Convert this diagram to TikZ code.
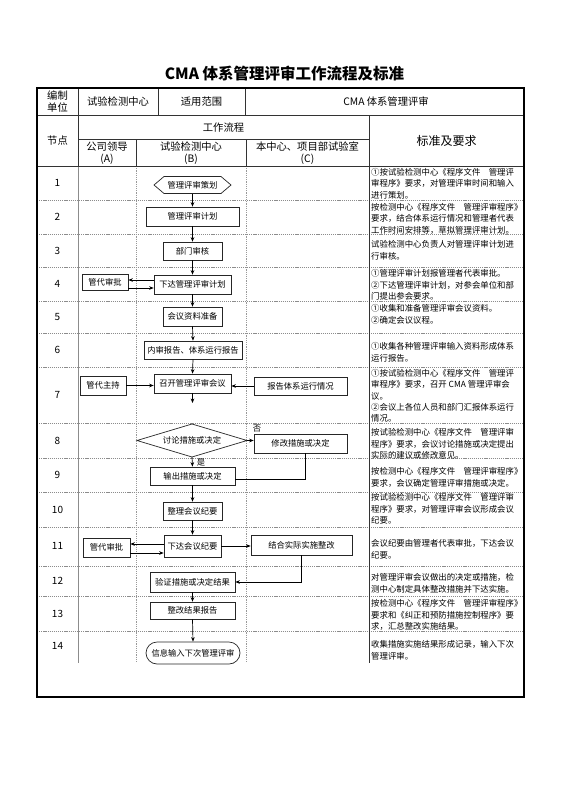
\documentclass[tikz,border=0pt]{standalone}
\usepackage{fontspec}
\setmainfont{Noto Sans CJK SC}
\usetikzlibrary{arrows.meta}
\begin{document}
\begin{tikzpicture}[x=1pt,y=-1pt,
  box/.style={draw=black!85,line width=0.7pt,fill=white,inner sep=0pt,font=\fontsize{8.3}{10}\selectfont},
  plain/.style={inner sep=0pt,font=\fontsize{8.3}{10}\selectfont},
  arr/.style={-{Stealth[length=4.5pt,width=3.6pt]},line width=0.7pt,black},
  ln/.style={line width=0.7pt,black},
  std/.style={anchor=north west,align=left,inner sep=0pt,font=\fontsize{8.4}{11.4}\selectfont},
  hdr/.style={inner sep=0pt,font=\fontsize{10.3}{12.5}\selectfont,align=center},
  num/.style={inner sep=0pt,font=\fontsize{10}{12}\selectfont},
  lbl/.style={inner sep=0pt,font=\fontsize{8.3}{10}\selectfont},
  solidln/.style={line width=0.6pt,black!80},
  grayln/.style={line width=0.6pt,black!45},
  rowln/.style={line width=0.5pt,black!45,dash pattern=on 1.2pt off 0.9pt},
  laneln/.style={line width=0.5pt,black!40,dash pattern=on 1.2pt off 1pt},
  ]
\useasboundingbox (0,0) rectangle (560,792);
\fill[white] (0,0) rectangle (560,792);

% title
\node[inner sep=0pt,font=\fontsize{15.5}{18}\selectfont\bfseries] (title) at (284.5,74) {CMA 体系管理评审工作流程及标准};

% grid
\foreach \yy in {200,234,267,301,333,367,423,458,492,527,566,596,631}
  \draw[rowln] (37,\yy) -- (524,\yy);
\draw[laneln] (136,166) -- (136,663);
\draw[laneln] (246,166) -- (246,663);
\draw[grayln] (78,166) -- (78,663);
\draw[solidln] (369,115) -- (369,663);
\draw[solidln] (37,115) -- (524,115);
\draw[solidln] (37,166) -- (524,166);
\draw[solidln] (78,139) -- (369,139);
\draw[solidln] (78,88) -- (78,166);
\draw[solidln] (158,88) -- (158,115);
\draw[solidln] (245,88) -- (245,115);
\draw[solidln] (136,139) -- (136,166);
\draw[solidln] (246,139) -- (246,166);
\draw[line width=1.2pt,black] (37,88) rectangle (524,697);

% header texts
\node[hdr] (h1) at (57.5,101.5) {编制\\单位};
\node[hdr] (h2) at (118,101.5) {试验检测中心};
\node[hdr] (h3) at (201.5,101.5) {适用范围};
\node[hdr] (h4) at (386,101.5) {CMA 体系管理评审};
\node[hdr] (h5) at (57.5,141) {节点};
\node[hdr] (h6) at (223.5,128) {工作流程};
\node[hdr] (h7) at (107,153) {公司领导\\(A)};
\node[hdr] (h8) at (191,153) {试验检测中心\\(B)};
\node[hdr] (h9) at (307.5,153) {本中心、项目部试验室\\(C)};
\node[hdr,font=\fontsize{12}{14}\selectfont] (h10) at (446.5,141) {标准及要求};

% node numbers
\node[num] (r1) at (57.5,183) {1};
\node[num] (r2) at (57.5,217) {2};
\node[num] (r3) at (57.5,250.5) {3};
\node[num] (r4) at (57.5,284) {4};
\node[num] (r5) at (57.5,317) {5};
\node[num] (r6) at (57.5,350) {6};
\node[num] (r7) at (57.5,395) {7};
\node[num] (r8) at (57.5,440.5) {8};
\node[num] (r9) at (57.5,475) {9};
\node[num] (r10) at (57.5,509.5) {10};
\node[num] (r11) at (57.5,546) {11};
\node[num] (r12) at (57.5,581) {12};
\node[num] (r13) at (57.5,613.5) {13};
\node[num] (r14) at (57.5,646) {14};

% flow shapes
\filldraw[draw=black!85,line width=0.7pt,fill=white] (154,185) -- ++(10,-8.5) -- ++(57,0) -- ++(10,8.5) -- ++(-10,8.5) -- ++(-57,0) -- cycle;
\node[plain,minimum width=77pt,minimum height=17pt] (n1) at (192.5,185) {管理评审策划};
\node[box,minimum width=93pt,minimum height=19pt] (n2) at (192.5,216.5) {管理评审计划};
\node[box,minimum width=59pt,minimum height=18pt] (n3) at (192.5,251) {部门审核};
\node[box,minimum width=77pt,minimum height=19pt] (n4) at (192.5,284.5) {下达管理评审计划};
\node[box,minimum width=46pt,minimum height=16pt] (a4) at (105,282.5) {管代审批};
\node[box,minimum width=59pt,minimum height=19pt] (n5) at (192.5,316.5) {会议资料准备};
\node[box,minimum width=98pt,minimum height=18pt] (n6) at (193,350) {内审报告、体系运行报告};
\node[box,minimum width=77pt,minimum height=19pt] (n7) at (192.5,383.5) {召开管理评审会议};
\node[box,minimum width=46pt,minimum height=19pt] (a7) at (103,385.5) {管代主持};
\node[box,minimum width=93pt,minimum height=18pt] (c7) at (300.5,386) {报告体系运行情况};
\coordinate (s7) at (192.5,403);
\filldraw[draw=black!85,line width=0.7pt,fill=white] (137,440.5) -- (192,424) -- (247,440.5) -- (192,457) -- cycle;
\node[plain,minimum width=110pt,minimum height=33pt] (d8) at (192,440.5) {讨论措施或决定};
\node[box,minimum width=93pt,minimum height=19pt] (c8) at (300.5,443.5) {修改措施或决定};
\node[box,minimum width=85pt,minimum height=18pt] (n9) at (192.5,476) {输出措施或决定};
\node[box,minimum width=59pt,minimum height=18pt] (n10) at (192.5,511) {整理会议纪要};
\node[box,minimum width=57pt,minimum height=22pt] (n11) at (192.5,546) {下达会议纪要};
\node[box,minimum width=47pt,minimum height=19pt] (a11) at (106.5,547.5) {管代审批};
\node[box,minimum width=101pt,minimum height=20pt] (c11) at (301.5,545) {结合实际实施整改};
\node[box,minimum width=85pt,minimum height=20pt] (n12) at (192.5,582) {验证措施或决定结果};
\node[box,minimum width=85pt,minimum height=17pt] (n13) at (192.5,610.5) {整改结果报告};
\node[box,rounded corners=11pt,minimum width=94pt,minimum height=22pt] (n14) at (193,653) {信息输入下次管理评审};

% labels
\node[lbl] (no) at (257,429) {否};
\node[lbl] (yes) at (201,463) {是};

% connectors
\draw[arr] (n1.south) -- (n2.north);
\draw[arr] (n2.south) -- (n3.north);
\draw[arr] (n3.south) -- (n4.north);
\draw[arr] ([yshift=4.5pt]n4.west) -- ([yshift=4.5pt]n4.west -| a4.east);
\draw[arr] ([yshift=-3.5pt]n4.west -| a4.east) -- ([yshift=-3.5pt]n4.west);
\draw[arr] (n4.south) -- (n5.north);
\draw[arr] (n5.south) -- (n6.north);
\draw[arr] (n6.south) -- (n7.north);
\draw[arr] (a7.east) -- (a7.east -| n7.west);
\draw[arr] (c7.west) -- (c7.west -| n7.east);
\draw[arr] (n7.south) -- (s7);
\draw[arr] (d8.east) -- (d8.east -| c8.west);
\draw[arr] (d8.south) -- (n9.north);
\draw[ln] ([xshift=4.5pt]c8.south) |- ([yshift=-3pt]n9.east);
\draw[arr] (n9.south) -- (n10.north);
\draw[arr] (n10.south) -- (n11.north);
\draw[arr] ([yshift=2pt]n11.west) -- ([yshift=2pt]n11.west -| a11.east);
\draw[arr] ([yshift=-7pt]n11.west -| a11.east) -- ([yshift=-7pt]n11.west);
\draw[arr] (n11.east) -- (n11.east -| c11.west);
\draw[arr] (c11.south) |- (n12.east);
\draw[arr] (n12.south) -- (n13.north);
\draw[arr] (n13.south) -- (n14.north);

% standards
\node[std] (t1) at (371,168) {①按试验检测中心《程序文件　管理评\\审程序》要求，对管理评审时间和输入\\进行策划。};
\node[std] (t2) at (371,203) {按检测中心《程序文件　管理评审程序》\\要求，结合体系运行情况和管理者代表\\工作时间安排等，草拟管理评审计划。};
\node[std] (t3) at (371,240.5) {试验检测中心负责人对管理评审计划进\\行审核。};
\node[std] (t4) at (371,269.5) {①管理评审计划报管理者代表审批。\\②下达管理评审计划，对参会单位和部\\门提出参会要求。};
\node[std] (t5) at (371,304.5) {①收集和准备管理评审会议资料。\\②确定会议议程。};
\node[std] (t6) at (371,342.5) {①收集各种管理评审输入资料形成体系\\运行报告。};
\node[std] (t7) at (371,369) {①按试验检测中心《程序文件　管理评\\审程序》要求，召开 CMA 管理评审会\\议。\\②会议上各位人员和部门汇报体系运行\\情况。};
\node[std] (t8) at (371,428.5) {按试验检测中心《程序文件　管理评审\\程序》要求，会议讨论措施或决定提出\\实际的建议或修改意见。};
\node[std] (t9) at (371,467.5) {按检测中心《程序文件　管理评审程序》\\要求，会议确定管理评审措施或决定。};
\node[std] (t10) at (371,493.5) {按试验检测中心《程序文件　管理评审\\程序》要求，对管理评审会议形成会议\\纪要。};
\node[std] (t11) at (371,539.5) {会议纪要由管理者代表审批，下达会议\\纪要。};
\node[std] (t12) at (371,573.5) {对管理评审会议做出的决定或措施，检\\测中心制定具体整改措施并下达实施。};
\node[std] (t13) at (371,599.5) {按检测中心《程序文件　管理评审程序》\\要求和《纠正和预防措施控制程序》要\\求，汇总整改实施结果。};
\node[std] (t14) at (371,640.5) {收集措施实施结果形成记录，输入下次\\管理评审。};
\end{tikzpicture}
\end{document}
